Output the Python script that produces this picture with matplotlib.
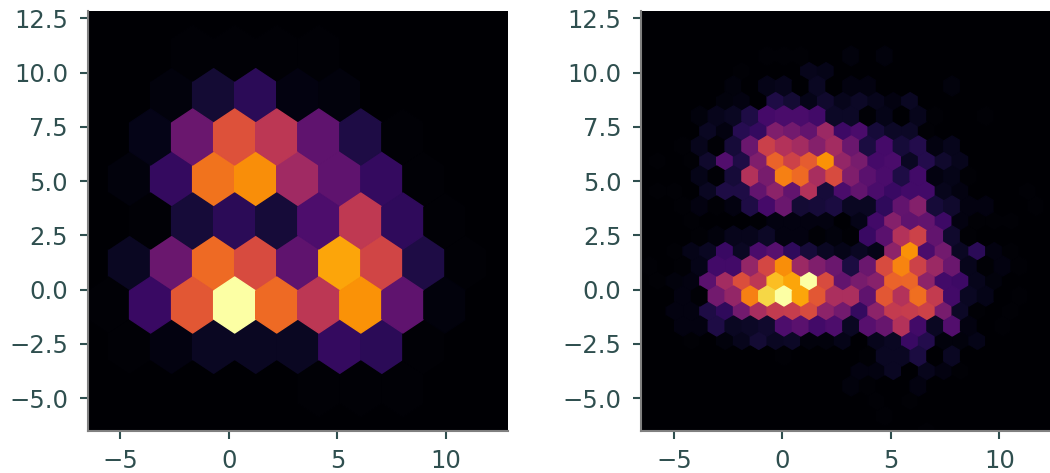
import numpy as np
import matplotlib
matplotlib.use('Agg')
import matplotlib.pyplot as plt

XLIM = (-6.52, 12.86)
YLIM = (-6.51, 12.84)

# hex values row by row, bottom row first, trailing zeros left out
left_rows = [
    [],
    [0, 0, 0, 0, 0, 1, 1, 1],
    [0, 1, 3, 6, 6, 6, 17, 15, 1],
    [1, 18, 62, 100, 67, 50, 76, 27, 2],
    [0, 6, 30, 67, 58, 27, 80, 56, 12, 1],
    [0, 1, 10, 15, 10, 23, 51, 16, 1],
    [0, 2, 17, 69, 75, 43, 27, 17, 1],
    [0, 4, 30, 60, 50, 27, 12, 1],
    [0, 0, 2, 9, 15, 3, 2],
    [0, 0, 1, 1, 1, 1],
    [],
]

right_rows = [
    [0] * 17 + [1],
    [0] * 14 + [1],
    [0] * 14 + [1, 0, 1],
    [0] * 12 + [2, 1, 0, 0, 3],
    [0] * 13 + [3, 3, 6, 0, 5, 3, 1],
    [0, 0, 0, 0, 0, 0, 0, 0, 1, 0, 0, 0, 0, 1, 6, 6, 11, 0, 6],
    [0, 0, 0, 1, 0, 2, 5, 9, 6, 7, 2, 2, 4, 0, 5, 6, 18, 13, 2, 2, 4],
    [0, 0, 3, 3, 12, 6, 7, 8, 23, 26, 20, 23, 6, 25, 29, 48, 20, 6, 24, 3, 0, 1],
    [0, 0, 3, 3, 12, 16, 32, 45, 52, 53, 58, 38, 32, 17, 38, 52, 53, 55, 33, 7, 1, 0, 1],
    [0, 0, 3, 1, 32, 40, 72, 90, 100, 80, 62, 46, 46, 27, 62, 48, 68, 52, 20, 6, 4, 0, 1],
    [0, 1, 2, 3, 26, 44, 59, 50, 85, 80, 100, 58, 28, 33, 37, 65, 66, 38, 20, 19, 5, 2],
    [1, 0, 1, 4, 20, 20, 40, 57, 75, 42, 35, 30, 11, 30, 58, 73, 55, 42, 30, 5, 1, 3, 1],
    [0, 0, 1, 4, 6, 18, 6, 22, 25, 16, 10, 6, 4, 6, 4, 38, 76, 22, 32, 6, 15, 3, 1],
    [0, 0, 0, 1, 2, 5, 5, 7, 3, 3, 1, 2, 1, 18, 26, 48, 55, 28, 8, 1],
    [0, 0, 0, 1, 0, 0, 0, 1, 3, 3, 3, 3, 0, 4, 20, 36, 27, 28, 19, 3, 1, 1, 1],
    [0, 0, 1, 3, 1, 3, 12, 21, 30, 9, 10, 11, 6, 6, 16, 28, 36, 10, 8, 3, 3, 0, 0, 1],
    [0, 1, 1, 0, 6, 12, 12, 28, 38, 28, 48, 10, 22, 28, 22, 18, 20, 20, 5, 3, 0, 0, 0, 1],
    [0, 0, 0, 4, 1, 10, 48, 33, 72, 67, 45, 58, 35, 26, 22, 12, 20, 3, 4, 1],
    [0, 1, 0, 1, 8, 24, 12, 35, 65, 55, 63, 76, 40, 33, 21, 22, 6, 13, 8, 5],
    [0, 0, 1, 5, 1, 10, 30, 54, 48, 44, 36, 44, 30, 11, 21, 10, 13, 3, 5],
    [0, 0, 0, 0, 6, 3, 14, 17, 35, 32, 28, 42, 19, 22, 10, 7, 7, 1],
    [0, 0, 0, 2, 5, 6, 12, 21, 22, 22, 20, 7, 7, 1, 4, 0, 5, 1, 0, 0, 1],
    [0, 0, 0, 0, 0, 2, 3, 0, 12, 9, 4, 8, 5, 7, 5, 3, 6],
    [0, 0, 0, 0, 0, 2, 0, 4, 5, 0, 6, 0, 3, 3, 0, 0, 0, 0, 2],
    [0, 0, 0, 0, 0, 0, 1, 0, 0, 0, 5, 4],
    [0, 0, 0, 0, 0, 0, 0, 1, 1, 1, 0, 0, 2, 0, 2],
    [],
    [],
    [],
]

xticks = [-5, 0, 5, 10]
yticks = [-5.0, -2.5, 0.0, 2.5, 5.0, 7.5, 10.0, 12.5]


def hex_points(rows, gridsize):
    '''hex centres and values for a full hexbin lattice'''
    ny = int(gridsize / np.sqrt(3))
    sx = (XLIM[1] - XLIM[0]) / gridsize
    sy = (YLIM[1] - YLIM[0]) / ny
    xs, ys, vals = [], [], []
    for k, row in enumerate(rows):
        odd = k % 2
        for i in range(gridsize + 1 - odd):
            xs.append(XLIM[0] + (i + 0.5 * odd) * sx)
            ys.append(YLIM[0] + k * sy / 2)
            vals.append(row[i] if i < len(row) else 0)
    return np.array(xs), np.array(ys), np.array(vals, dtype=float)


def draw_panel(ax, rows, gridsize):
    x, y, c = hex_points(rows, gridsize)
    ax.set_facecolor('#000004')
    ax.hexbin(x, y, C=c, gridsize=gridsize, cmap='inferno', reduce_C_function=np.sum,
              extent=(XLIM[0], XLIM[1], YLIM[0], YLIM[1]), vmin=0, vmax=100)
    ax.set_xlim(XLIM)
    ax.set_ylim(YLIM)
    ax.set_xticks(xticks)
    ax.set_yticks(yticks)
    ax.tick_params(colors='#2f4f4f', labelsize=17.5, length=6, width=1.5)
    ax.tick_params(axis='x', pad=7)
    ax.tick_params(axis='y', pad=8)
    ax.spines['top'].set_visible(False)
    ax.spines['right'].set_visible(False)
    for side in ['left', 'bottom']:
        ax.spines[side].set_color('#808080')
        ax.spines[side].set_linewidth(1.5)


fig = plt.figure(figsize=(10.5, 4.73), dpi=100)
ax1 = fig.add_axes([87.5 / 1050, 1 - 431 / 473, 420.5 / 1050, 420 / 473])
ax2 = fig.add_axes([641 / 1050, 1 - 431 / 473, 420.5 / 1050, 420 / 473])
draw_panel(ax1, left_rows, 10)
draw_panel(ax2, right_rows, 25)
fig.savefig('out.png', dpi=100)
